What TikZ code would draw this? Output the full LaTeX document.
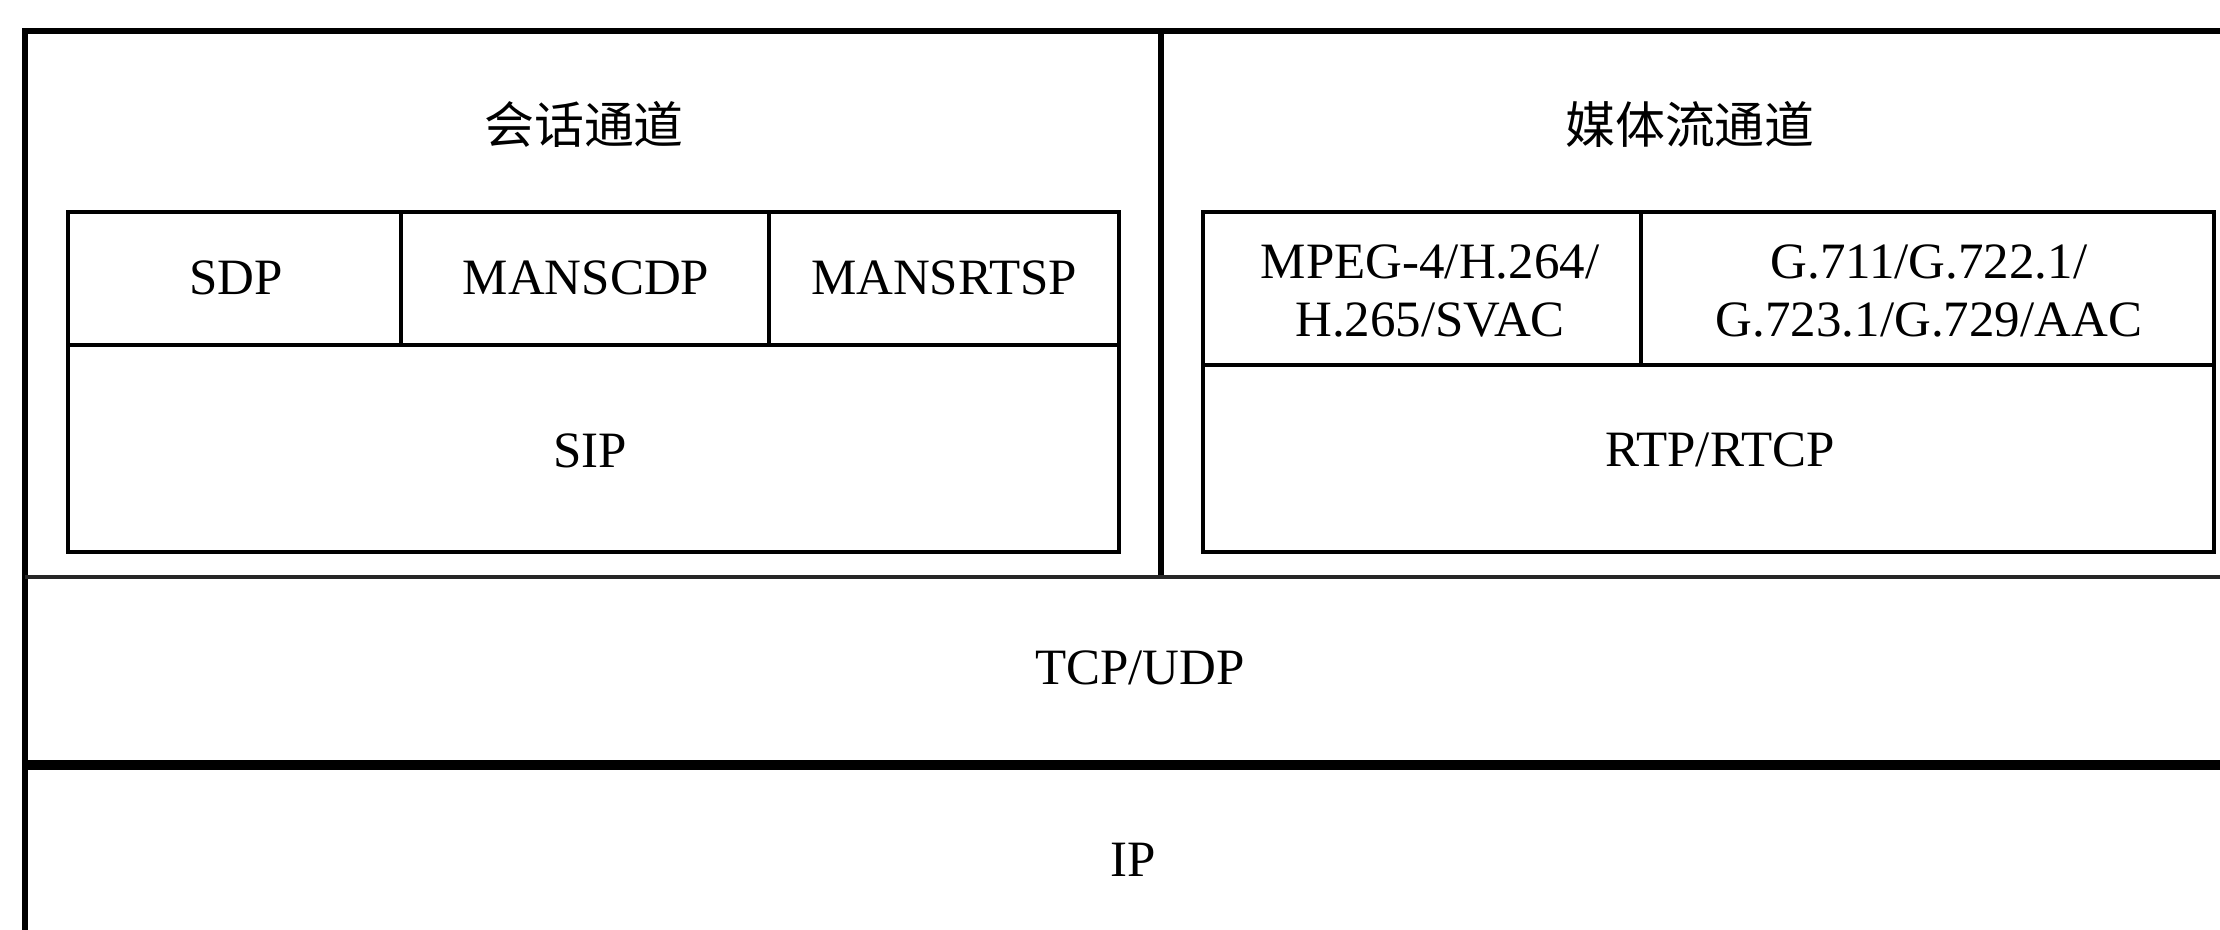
\documentclass[tikz,border=0pt]{standalone}
\usepackage{fontspec}
\setmainfont{Liberation Serif}
\newfontfamily\cjk{Noto Sans CJK SC}
\tikzset{
  frameline/.style={line width=1.7pt, draw=black},
  cellline/.style={line width=1.4pt, draw=black},
  bandline/.style={line width=1.2pt, draw=black!85},
  splitline/.style={line width=3.1pt, draw=black},
  celltext/.style={font=\fontsize{14.5}{16.5}\selectfont, align=center, inner sep=0pt},
  chantitle/.style={font=\cjk\fontsize{14.2}{16}\selectfont, inner sep=0pt},
}
\begin{document}
\begin{tikzpicture}
\useasboundingbox (0,0) rectangle (22.2,9.29);
\clip (0,0) rectangle (22.2,9.29);
\draw[frameline] (0.25,-0.26) rectangle (22.55,8.98);
\draw[frameline] (11.61,8.98) -- (11.61,3.52);
\draw[bandline] (0.25,3.52) -- (22.55,3.52);
\draw[splitline] (0.25,1.64) -- (22.55,1.64);
% session channel
\draw[cellline] (0.68,3.77) rectangle (11.19,7.17);
\draw[cellline] (0.68,5.84) -- (11.19,5.84);
\draw[cellline] (4.01,5.84) -- (4.01,7.17);
\draw[cellline] (7.69,5.84) -- (7.69,7.17);
\node[chantitle] (session) at (5.84,8.05) {会话通道};
\node[celltext] (sdp) at (2.36,6.51) {SDP};
\node[celltext] (manscdp) at (5.86,6.51) {MANSCDP};
\node[celltext] (mansrtsp) at (9.44,6.51) {MANSRTSP};
\node[celltext] (sip) at (5.90,4.78) {SIP};
% media channel
\draw[cellline] (12.03,3.77) rectangle (22.14,7.17);
\draw[cellline] (12.03,5.64) -- (22.14,5.64);
\draw[cellline] (16.41,5.64) -- (16.41,7.17);
\node[chantitle] (media) at (16.90,8.05) {媒体流通道};
\node[celltext] (video) at (14.30,6.38) {MPEG-4/H.264/\\H.265/SVAC};
\node[celltext] (audio) at (19.29,6.38) {G.711/G.722.1/\\G.723.1/G.729/AAC};
\node[celltext] (rtp) at (17.20,4.79) {RTP/RTCP};
% lower layers
\node[celltext] (tcp) at (11.40,2.61) {TCP/UDP};
\node[celltext] (ip) at (11.33,0.69) {IP};
\end{tikzpicture}
\end{document}
